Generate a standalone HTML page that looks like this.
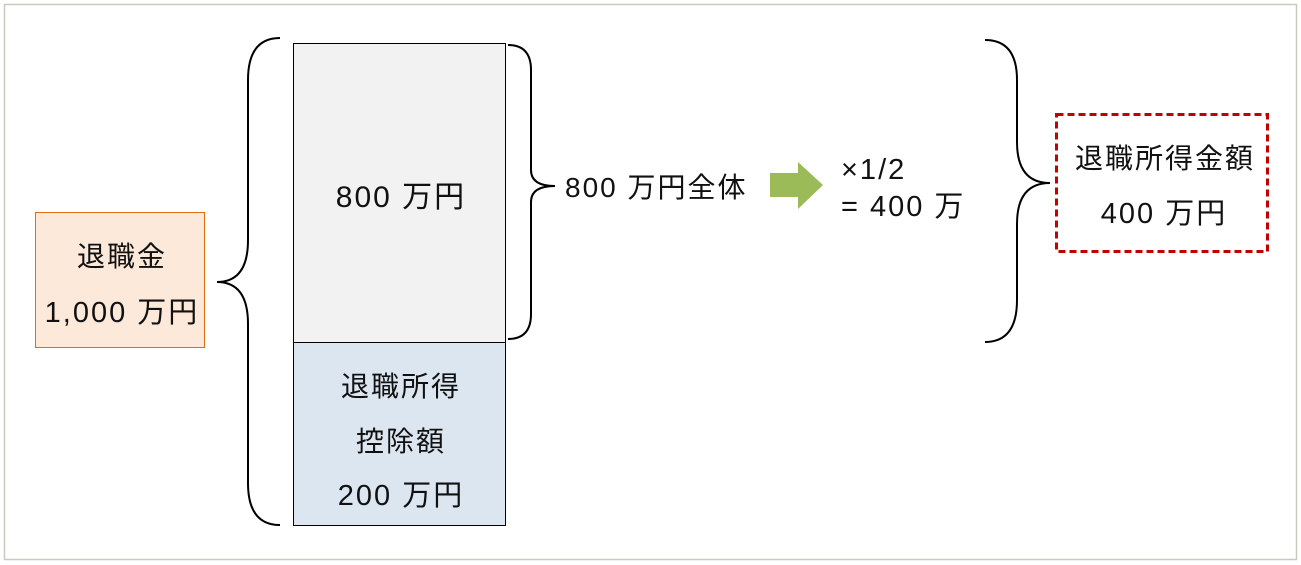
<!DOCTYPE html>
<html><head><meta charset="utf-8"><style>
html,body{margin:0;padding:0;background:#fff;}
svg{display:block;}
text{font-family:"Liberation Sans","Noto Sans CJK JP",sans-serif;fill:#111;letter-spacing:2px;}
</style></head><body>
<svg width="1301" height="565" viewBox="0 0 1301 565" xmlns="http://www.w3.org/2000/svg">
<rect x="4.5" y="4.5" width="1292" height="555" fill="#fff" stroke="#c9c9bd" stroke-width="1.5"/>
<rect x="35.5" y="212.5" width="169" height="135" fill="#fde9d9" stroke="#e46c0a" stroke-width="1"/>
<text x="122" y="266" font-size="28" text-anchor="middle">退職金</text>
<text x="122" y="322" font-size="29" text-anchor="middle">1,000 万円</text>
<rect x="293.5" y="43.5" width="212" height="299" fill="#f2f2f2" stroke="#000" stroke-width="1"/>
<rect x="293.5" y="342.5" width="212" height="183" fill="#dce6f1" stroke="#000" stroke-width="1"/>
<text x="401" y="207" font-size="30" text-anchor="middle">800 万円</text>
<text x="401" y="396" font-size="28" text-anchor="middle">退職所得</text>
<text x="401" y="451" font-size="28" text-anchor="middle">控除額</text>
<text x="401" y="505" font-size="29" text-anchor="middle">200 万円</text>
<path d="M280 38 Q248 38 248 80 L248 240 Q248 282 217 282 Q248 282 248 324 L248 483 Q248 525 280 525" fill="none" stroke="#000" stroke-width="2"/>
<path d="M508 45 Q531 45 531 70 L531 170 Q531 186 555 186 Q531 186 531 202 L531 314 Q531 339 508 339" fill="none" stroke="#000" stroke-width="2"/>
<text x="565" y="197" font-size="28">800 万円全体</text>
<polygon points="770,173 798,173 798,162 823,185 798,209 798,197 770,197" fill="#9bbb59"/>
<text x="841" y="179" font-size="29" letter-spacing="3">×1/2</text>
<text x="841" y="216" font-size="29" letter-spacing="3">= 400 万</text>
<path d="M985 40 Q1017 40 1017 80 L1017 142 Q1017 183 1050 183 Q1017 183 1017 224 L1017 300 Q1017 342 985 342" fill="none" stroke="#000" stroke-width="2"/>
<rect x="1056.5" y="114.5" width="211" height="137" fill="none" stroke="#c00000" stroke-width="3" stroke-dasharray="7,4"/>
<text x="1165" y="168" font-size="28" text-anchor="middle" letter-spacing="1">退職所得金額</text>
<text x="1164" y="223" font-size="29" text-anchor="middle">400 万円</text>
</svg>
</body></html>
